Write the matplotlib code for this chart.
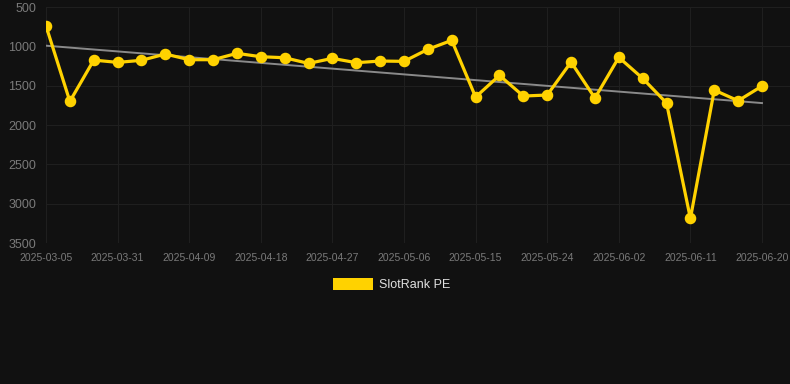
import numpy as np
import matplotlib.pyplot as plt
from matplotlib.patches import Rectangle

plt.rcParams['font.family'] = ['Liberation Sans', 'DejaVu Sans']

dates = ["2025-03-05", "2025-03-25", "2025-03-28", "2025-03-31", "2025-04-03",
         "2025-04-06", "2025-04-09", "2025-04-12", "2025-04-15", "2025-04-18",
         "2025-04-21", "2025-04-24", "2025-04-27", "2025-04-30", "2025-05-03",
         "2025-05-06", "2025-05-09", "2025-05-12", "2025-05-15", "2025-05-18",
         "2025-05-21", "2025-05-24", "2025-05-27", "2025-05-30", "2025-06-02",
         "2025-06-05", "2025-06-08", "2025-06-11", "2025-06-14", "2025-06-17",
         "2025-06-20"]
rank_pe = [740, 1700, 1175, 1204, 1178, 1098, 1170, 1170, 1089, 1132,
           1145, 1217, 1153, 1208, 1187, 1191, 1038, 924, 1645, 1369,
           1632, 1619, 1200, 1658, 1140, 1407, 1721, 3188, 1556, 1692,
           1505]
y_ticks = [500, 1000, 1500, 2000, 2500, 3000, 3500]

BG = "#111111"
GOLD = "#FFD200"

fig = plt.figure(figsize=(7.9, 3.84), dpi=100, facecolor=BG)
ax = fig.add_axes([46 / 790, 1 - 243 / 384, (790 - 46) / 790, 236 / 384])
ax.set_facecolor(BG)

x = np.arange(len(rank_pe))
k, b = np.polyfit(x, rank_pe, 1)
ax.plot(x, k * x + b, color="#8a8a8a", lw=1.4, zorder=2)
ax.plot(x, rank_pe, color=GOLD, lw=2.3, marker="o", ms=7.3, zorder=3)

ax.set_ylim(3500, 500)
ax.set_yticks(y_ticks)
ax.set_xlim(0, 30 + 28 / 23.87)
ax.set_xticks(x[::3])
ax.set_xticklabels(dates[::3])

ax.grid(True, color="#1f1f1f", lw=0.8)
ax.set_axisbelow(True)
for s in ax.spines.values():
    s.set_visible(False)
ax.tick_params(axis="y", colors="#7a7a7a", labelsize=9, length=0, pad=7)
ax.tick_params(axis="x", colors="#7a7a7a", labelsize=7.5, length=0, pad=7)

# legend drawn below the plot
fig.patches.append(Rectangle((333 / 790, 1 - 290 / 384), 40 / 790, 12 / 384,
                             transform=fig.transFigure, facecolor=GOLD, edgecolor="none"))
fig.text(379 / 790, 1 - 284.5 / 384, "SlotRank PE", color="#e0e0e0",
         fontsize=9, va="center", ha="left")

fig.savefig("out.png", dpi=100, facecolor=BG)
